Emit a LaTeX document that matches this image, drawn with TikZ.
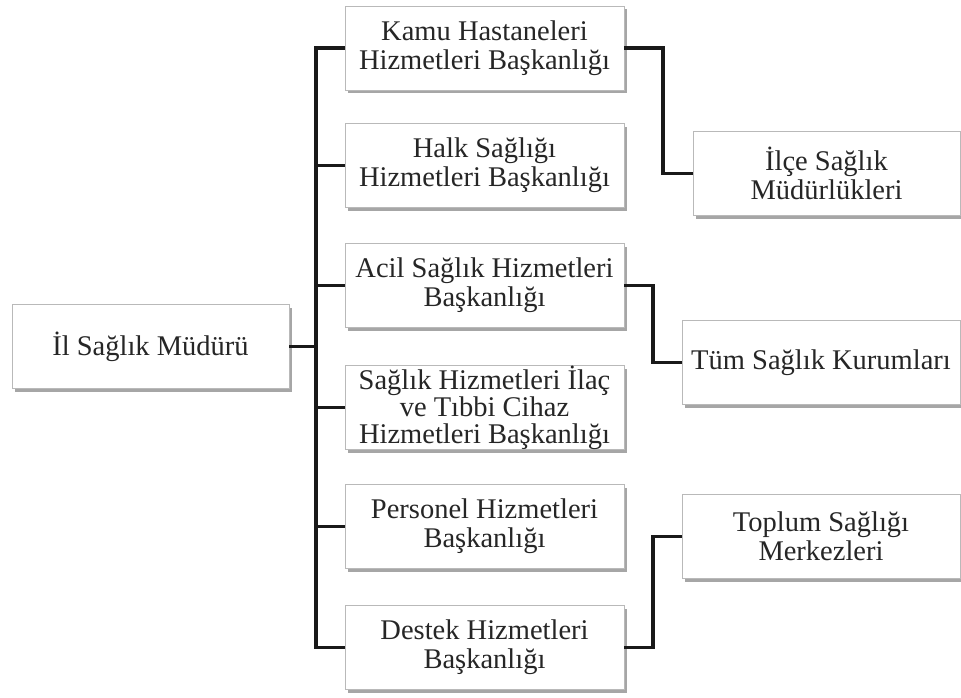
\documentclass[tikz,border=0pt]{standalone}
\usepackage{fontspec}
\setmainfont{Liberation Serif}
\usetikzlibrary{shadows}
\begin{document}
\begin{tikzpicture}[x=1pt,y=-1pt,
  orgbox/.style={draw=gray!55, line width=0.9pt, fill=white, inner sep=0pt,
    align=center, text=black!85, minimum height=84pt,
    font={\fontsize{28.5}{29}\selectfont},
    drop shadow={shadow xshift=2.5pt, shadow yshift=-3.5pt, fill=black, opacity=0.35}},
  link/.style={line width=3.5pt, black!90}]
\fill[white] (0,0) rectangle (961,698);
\useasboundingbox (0,0) rectangle (961,698);

\node[orgbox, minimum width=277pt] (root) at (150.5,346.5) {İl Sağlık Müdürü};

\node[orgbox, minimum width=279pt] (kamu) at (484.5,48) {Kamu Hastaneleri\\Hizmetleri Başkanlığı};
\node[orgbox, minimum width=279pt] (halk) at (484.5,165.5) {Halk Sağlığı\\Hizmetleri Başkanlığı};
\node[orgbox, minimum width=279pt] (acil) at (484.5,285.5) {Acil Sağlık Hizmetleri\\Başkanlığı};
\node[orgbox, minimum width=279pt, font={\fontsize{28.5}{27}\selectfont}] (ilac) at (484.5,407.5) {Sağlık Hizmetleri İlaç\\ve Tıbbi Cihaz\\Hizmetleri Başkanlığı};
\node[orgbox, minimum width=279pt] (pers) at (484.5,526.5) {Personel Hizmetleri\\Başkanlığı};
\node[orgbox, minimum width=279pt] (destek) at (484.5,647.5) {Destek Hizmetleri\\Başkanlığı};

\node[orgbox, minimum width=267pt] (ilce) at (826.5,173.5) {İlçe Sağlık\\Müdürlükleri};
\node[orgbox, minimum width=278pt] (tum) at (821,362.5) {Tüm Sağlık Kurumları};
\node[orgbox, minimum width=278pt] (toplum) at (821,536.5) {Toplum Sağlığı\\Merkezleri};

\coordinate (tr) at (316,0);
\coordinate (j1) at (663,0);
\coordinate (j2) at (653,0);

\draw[link] (root.east) -- (root.east -| tr);
\draw[link] (kamu.west) -- (kamu.west -| tr) -- (destek.west -| tr) -- (destek.west);
\draw[link] (halk.west) -- (halk.west -| tr);
\draw[link] (acil.west) -- (acil.west -| tr);
\draw[link] (ilac.west) -- (ilac.west -| tr);
\draw[link] (pers.west) -- (pers.west -| tr);

\draw[link] (kamu.east) -- (kamu.east -| j1) |- (ilce.west);
\draw[link] (acil.east) -- (acil.east -| j2) |- (tum.west);
\draw[link] (destek.east) -- (destek.east -| j2) |- (toplum.west);
\end{tikzpicture}
\end{document}
